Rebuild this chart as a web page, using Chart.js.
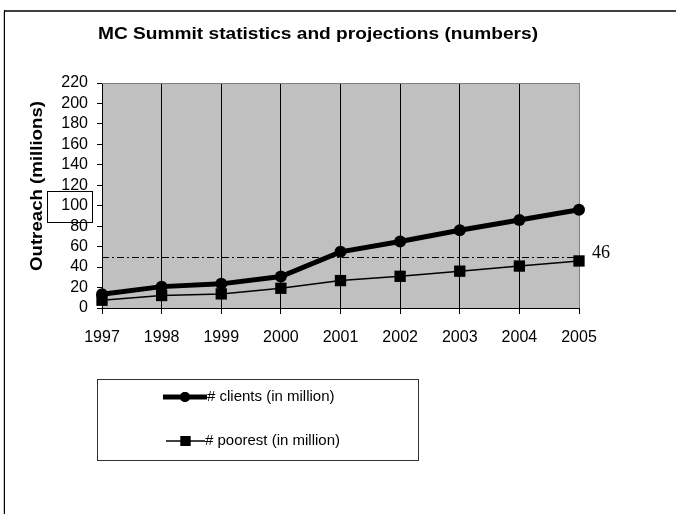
<!DOCTYPE html>
<html>
<head>
<meta charset="utf-8">
<script src="https://cdn.jsdelivr.net/npm/chart.js@4"></script>
<style>
  html, body { margin: 0; padding: 0; background: #fff; }
  canvas { display: block; }
</style>
</head>
<body>
<canvas id="chart" width="676" height="514"></canvas>
<script>
// Microcredit Summit outreach: reported figures 1997-2001, projections 2002-2005
const years = ['1997', '1998', '1999', '2000', '2001', '2002', '2003', '2004', '2005'];
const clients = [13.5, 20.9, 23.6, 30.7, 54.9, 65, 76, 86, 96];
const poorest = [7.6, 12.2, 13.8, 19.3, 26.8, 31, 36, 41, 46];
const seriesNames = ['# clients (in million)', '# poorest (in million)'];
const targetLine = 50;
const yTicks = { min: 0, max: 220, step: 20 };
const chartTitle = 'MC Summit statistics and projections (numbers)';
const yTitle = 'Outreach (millions)';

const SANS = 'Arial, "Liberation Sans", sans-serif';
const SERIF = '"Times New Roman", "Liberation Serif", serif';

// draw text stretched along its baseline to a given width
function wideText(ctx, text, x, y, width) {
  const w = ctx.measureText(text).width;
  ctx.save();
  ctx.translate(x, y);
  ctx.scale(width / w, 1);
  ctx.fillText(text, 0, 0);
  ctx.restore();
}

const decorations = {
  id: 'decorations',
  beforeDraw(chart) {
    const { ctx, chartArea: a } = chart;
    ctx.save();
    ctx.fillStyle = '#fff';
    ctx.fillRect(0, 0, chart.width, chart.height);
    // outer frame (top and left edges)
    ctx.fillStyle = '#404040';
    ctx.fillRect(4, 10, chart.width - 4, 2);
    ctx.fillStyle = '#000';
    ctx.fillRect(4, 10, 1, chart.height - 10);
    ctx.fillStyle = '#c8c8c8';
    ctx.fillRect(3, 12, 1, chart.height - 12);
    // plot area
    ctx.fillStyle = '#c0c0c0';
    ctx.fillRect(a.left, a.top, a.right - a.left, a.bottom - a.top);
    ctx.restore();
  },
  beforeDatasetsDraw(chart) {
    const { ctx, chartArea: a, scales } = chart;
    ctx.save();
    ctx.strokeStyle = '#808080';
    ctx.lineWidth = 1;
    ctx.beginPath();
    ctx.moveTo(a.left, a.top + 0.5);
    ctx.lineTo(a.right + 0.5, a.top + 0.5);
    ctx.stroke();
    // dash-dot reference line
    const y = Math.round(scales.y.getPixelForValue(targetLine)) + 0.5;
    ctx.strokeStyle = '#000';
    ctx.setLineDash([7, 3, 2, 3]);
    ctx.beginPath();
    ctx.moveTo(a.left, y);
    ctx.lineTo(a.right, y);
    ctx.stroke();
    ctx.restore();
  },
  afterDraw(chart) {
    const { ctx, scales } = chart;
    ctx.save();
    ctx.fillStyle = '#000';
    // chart title
    ctx.font = 'bold 17px ' + SANS;
    ctx.textAlign = 'center';
    ctx.textBaseline = 'middle';
    wideText(ctx, chartTitle, 318, 34, 440);
    // y axis title
    ctx.save();
    ctx.translate(37, 186);
    ctx.rotate(-Math.PI / 2);
    ctx.font = 'bold 17px ' + SANS;
    wideText(ctx, yTitle, 0, 0, 170);
    ctx.restore();
    // box around the 100 tick label
    const y100 = scales.y.getPixelForValue(100);
    ctx.strokeStyle = '#000';
    ctx.lineWidth = 1;
    ctx.strokeRect(47.5, Math.round(y100) - 14.5, 45, 31);
    // value label at the last poorest point
    const meta = chart.getDatasetMeta(1);
    const last = meta.data[meta.data.length - 1];
    ctx.font = '18px ' + SERIF;
    ctx.textAlign = 'left';
    ctx.fillText(String(poorest[poorest.length - 1]), last.x + 13, last.y - 8);
    // legend
    ctx.strokeStyle = '#333';
    ctx.strokeRect(97.5, 379.5, 321, 81);
    const rows = [
      { y: 397, x0: 163, x1: 207 },
      { y: 441, x0: 166, x1: 205 }
    ];
    chart.data.datasets.forEach((ds, i) => {
      const r = rows[i];
      ctx.strokeStyle = ds.borderColor;
      ctx.lineWidth = ds.borderWidth;
      ctx.setLineDash([]);
      ctx.beginPath();
      ctx.moveTo(r.x0, r.y);
      ctx.lineTo(r.x1, r.y);
      ctx.stroke();
      Chart.helpers.drawPoint(ctx, {
        pointStyle: ds.pointStyle,
        radius: ds.pointRadius - 1,
        borderWidth: 0
      }, (r.x0 + r.x1) / 2, r.y);
      ctx.fillStyle = '#000';
      ctx.fill();
      ctx.font = '15px ' + SANS;
      ctx.textAlign = 'left';
      ctx.textBaseline = 'middle';
      ctx.fillText(ds.label, r.x1, r.y);
    });
    ctx.restore();
  }
};

new Chart(document.getElementById('chart'), {
  type: 'line',
  data: {
    labels: years,
    datasets: [
      {
        label: seriesNames[0],
        data: clients,
        borderColor: '#000',
        backgroundColor: '#000',
        borderWidth: 5,
        pointStyle: 'circle',
        pointRadius: 6,
        pointBorderWidth: 0,
        tension: 0
      },
      {
        label: seriesNames[1],
        data: poorest,
        borderColor: '#000',
        backgroundColor: '#000',
        borderWidth: 1.5,
        pointStyle: 'rect',
        pointRadius: 8,
        pointBorderWidth: 0,
        tension: 0
      }
    ]
  },
  options: {
    responsive: false,
    animation: false,
    devicePixelRatio: 1,
    layout: { padding: { left: 0, right: 97, top: 83, bottom: 146 } },
    plugins: {
      legend: { display: false },
      title: { display: false },
      tooltip: { enabled: false }
    },
    scales: {
      x: {
        offset: false,
        border: { color: '#000', width: 1 },
        grid: {
          color: (c) => (c.index === years.length - 1 ? '#808080' : '#000'),
          lineWidth: 1,
          drawOnChartArea: true,
          drawTicks: true,
          tickLength: 6,
          tickColor: '#000'
        },
        ticks: {
          color: '#000',
          font: { family: SANS, size: 16 },
          padding: 14,
          maxRotation: 0,
          autoSkip: false
        },
        afterFit: (s) => { s.height = 60; }
      },
      y: {
        min: yTicks.min,
        max: yTicks.max,
        border: { color: '#000', width: 1 },
        grid: {
          drawOnChartArea: false,
          drawTicks: true,
          tickLength: 5,
          tickColor: '#000'
        },
        ticks: {
          stepSize: yTicks.step,
          autoSkip: false,
          color: '#000',
          font: { family: SANS, size: 16 },
          padding: 9
        },
        afterFit: (s) => { s.width = 102; }
      }
    }
  },
  plugins: [decorations]
});
</script>
</body>
</html>
